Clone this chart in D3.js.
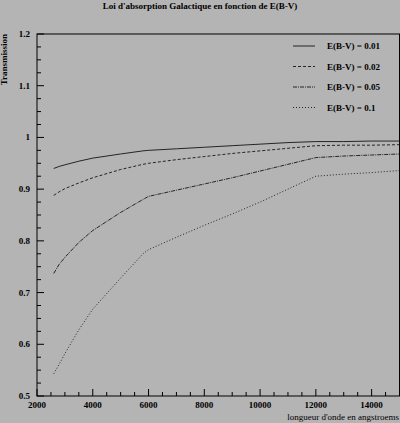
<!DOCTYPE html>
<html><head><meta charset="utf-8">
<script src="https://cdn.jsdelivr.net/npm/d3@7"></script>
<style>body{margin:0;background:#b4b4b4}svg{display:block}text{font-family:"Liberation Serif",serif;font-weight:bold;font-size:9px}</style>
</head><body><svg id="c" width="400" height="423"></svg>
<script>
const wl = [2600,2800,3000,3500,4000,5000,5800,6000,7000,8000,9000,10000,11000,12000,13000,14000,15000];
const s001 = [0.940,0.944,0.947,0.954,0.960,0.968,0.974,0.975,0.978,0.981,0.984,0.987,0.990,0.992,0.992,0.993,0.993];
const s002 = [0.888,0.895,0.901,0.912,0.922,0.938,0.948,0.950,0.957,0.963,0.969,0.974,0.979,0.984,0.985,0.985,0.986];
const s005 = [0.737,0.755,0.768,0.797,0.820,0.855,0.880,0.886,0.898,0.910,0.922,0.935,0.948,0.961,0.964,0.966,0.968];
const s01  = [0.543,0.562,0.582,0.628,0.668,0.728,0.775,0.783,0.807,0.830,0.852,0.875,0.900,0.925,0.929,0.932,0.936];
const seriesNames = ["E(B-V) = 0.01","E(B-V) = 0.02","E(B-V) = 0.05","E(B-V) = 0.1"];
const dashes = [null,"3,2","4,1,1,1","1,2"];
const xTicks = [2000,4000,6000,8000,10000,12000,14000];
const yTicks = [0.5,0.6,0.7,0.8,0.9,1,1.1,1.2];
const svg = d3.select("#c");
const x = d3.scaleLinear().domain([2000,15000]).range([37,399.5]);
const y = d3.scaleLinear().domain([0.5,1.2]).range([396,34]);
const g = svg.append("g");
g.append("rect").attr("x",37).attr("y",34).attr("width",362.5).attr("height",362).attr("fill","none").attr("stroke","#000");
d3.range(2000,15001,500).forEach(v=>{const L=v%2000===0?7:4;
 g.append("line").attr("x1",x(v)).attr("x2",x(v)).attr("y1",396).attr("y2",396-L).attr("stroke","#000");});
d3.range(0,29).map(i=>0.5+i*0.025).forEach(v=>{const L=Math.abs(v*10-Math.round(v*10))<1e-6?7:4;
 g.append("line").attr("x1",37).attr("x2",37+L).attr("y1",y(v)).attr("y2",y(v)).attr("stroke","#000");});
xTicks.forEach(v=>g.append("text").attr("x",x(v)).attr("y",408).attr("text-anchor","middle").text(v));
yTicks.forEach(v=>g.append("text").attr("x",30).attr("y",y(v)+3).attr("text-anchor","end").text(v));
svg.append("text").attr("x",200).attr("y",9).attr("text-anchor","middle").text("Loi d'absorption Galactique en fonction de E(B-V)");
svg.append("text").attr("x",399).attr("y",420).attr("text-anchor","end").style("font-weight","normal").text("longueur d'onde en angstroems");
svg.append("text").attr("transform","translate(7,34) rotate(-90)").attr("text-anchor","end").text("Transmission");
const line = d3.line().x((d,i)=>x(wl[i])).y(d=>y(d));
[s001,s002,s005,s01].forEach((s,k)=>{
 g.append("path").attr("d",line(s)).attr("fill","none").attr("stroke","#000").attr("stroke-width",0.8).attr("stroke-dasharray",dashes[k]);
 const ly=46+k*20.5;
 g.append("line").attr("x1",293).attr("x2",315).attr("y1",ly).attr("y2",ly).attr("stroke","#000").attr("stroke-width",0.8).attr("stroke-dasharray",dashes[k]);
 g.append("text").attr("x",327).attr("y",ly+3).text(seriesNames[k]);
});
</script></body></html>
